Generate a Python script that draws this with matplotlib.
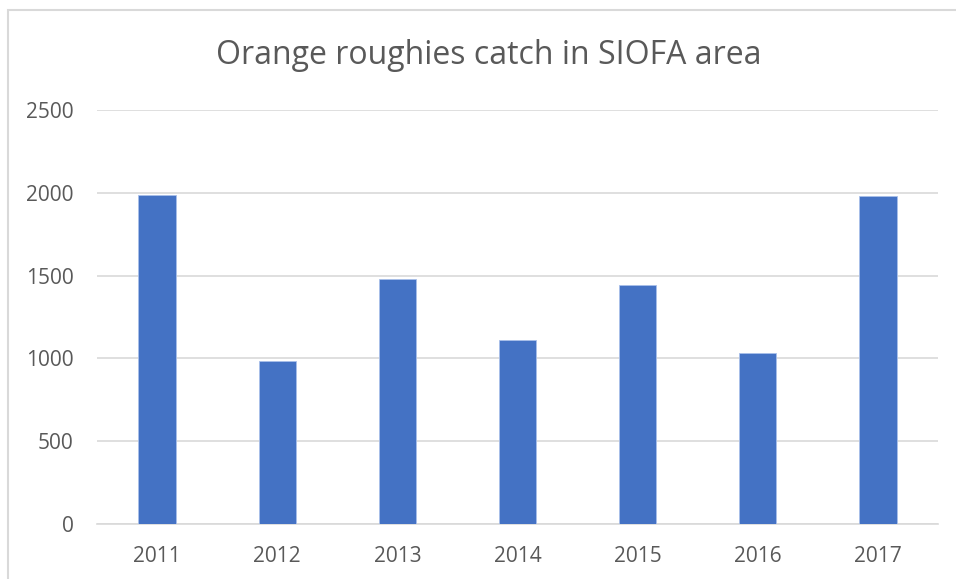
import matplotlib.pyplot as plt
from matplotlib.patches import Rectangle

years = ['2011', '2012', '2013', '2014', '2015', '2016', '2017']
catch = [1987, 984, 1482, 1111, 1443, 1033, 1981]
yticks = [0, 500, 1000, 1500, 2000, 2500]

plt.rcParams['font.family'] = ['Open Sans', 'DejaVu Sans']

fig = plt.figure(figsize=(9.56, 5.79), dpi=100)
W, H = 956, 579

# chart area border (cropped on right and bottom)
fig.patches.append(Rectangle((8 / W, -0.1), 1.2, 1 - 10 / H + 0.1,
                             transform=fig.transFigure, fill=False,
                             edgecolor='#d9d9d9', linewidth=1.5))

ax = fig.add_axes([97 / W, 1 - 524 / H, (938 - 97) / W, (524 - 110) / H])
x = range(len(years))
ax.bar(x, catch, width=0.31, color='#4472c4', edgecolor='#a9c0ea',
       linewidth=0.6, zorder=3)

ax.set_xlim(-0.5, len(years) - 0.5)
ax.set_ylim(0, 2500)
ax.set_yticks(yticks)
ax.set_xticks(list(x))
ax.set_xticklabels(years)
ax.grid(axis='y', color='#d9d9d9', linewidth=1.2, zorder=0)
for s in ['top', 'right', 'left']:
    ax.spines[s].set_visible(False)
ax.spines['bottom'].set_color('#d9d9d9')
ax.spines['bottom'].set_linewidth(1.2)
ax.tick_params(length=0, labelsize=15, colors='#595959')
ax.tick_params(axis='y', pad=17)
ax.tick_params(axis='x', pad=16)

fig.text(489 / W, 1 - 55 / H, 'Orange roughies catch in SIOFA area',
         ha='center', va='center', fontsize=23, color='#595959')

fig.savefig('out.png', dpi=100)
